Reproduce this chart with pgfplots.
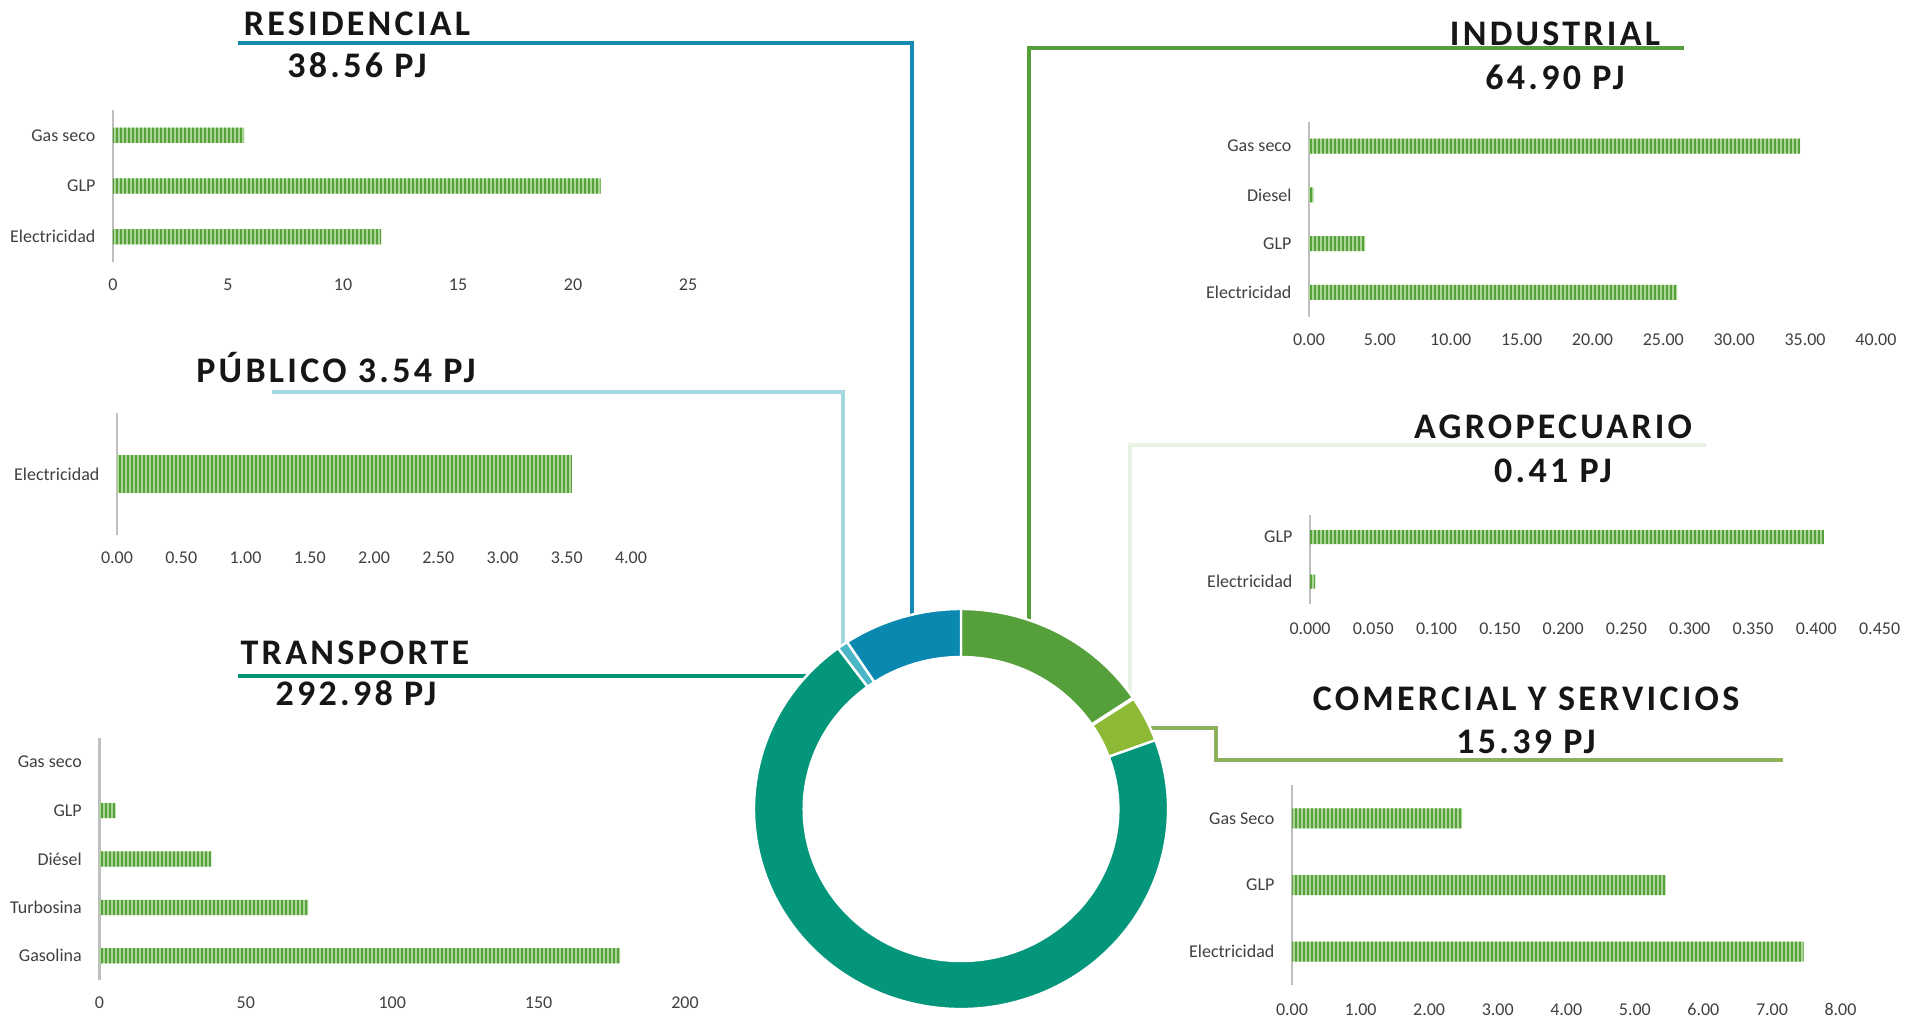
\documentclass[border=0pt]{standalone}
\usepackage{fontspec}
\setmainfont{Carlito}
\newfontfamily\titlefont{Carlito}[LetterSpace=9]
\usepackage{pgfplots}
\pgfplotsset{compat=1.18}
\usetikzlibrary{patterns.meta}

\definecolor{barlight}{RGB}{172,213,152}
\definecolor{bardark}{RGB}{86,161,58}
\definecolor{lab}{RGB}{64,64,64}
\definecolor{axgray}{RGB}{191,191,191}
\definecolor{ttl}{RGB}{22,22,22}
\definecolor{cInd}{HTML}{55A03B}
\definecolor{cAgr}{HTML}{C5DFB0}
\definecolor{cCom}{HTML}{8DB935}
\definecolor{cTra}{HTML}{03967A}
\definecolor{cPub}{HTML}{4AB6C6}
\definecolor{cRes}{HTML}{0B88B0}
\definecolor{lRes}{HTML}{1589B1}
\definecolor{lPub}{HTML}{A4D8E1}
\definecolor{lTra}{HTML}{049577}
\definecolor{lInd}{HTML}{56A03C}
\definecolor{lAgr}{HTML}{E8F3E3}
\definecolor{lCom}{HTML}{8DB25A}

\tikzdeclarepattern{
  name=vstripes,
  type=uncolored,
  bounding box={(0pt,0pt) and (1.4pt,20pt)},
  tile size={(1.4pt,20pt)},
  code={\pgfpathrectangle{\pgfpointorigin}{\pgfpoint{0.75pt}{20pt}}\pgfusepath{fill}}
}

\pgfplotsset{
  hbar/.style={
    scale only axis, anchor=south west, xbar,
    enlargelimits=false, clip=false,
    axis line style={-},
    axis y line*=left, axis x line*=bottom,
    x axis line style={draw=none},
    y axis line style={draw=axgray, line width=0.9pt},
    major tick length=0pt, tick style={draw=none},
    ticklabel style={font=\fontsize{6.75}{8}\selectfont, text=lab},
    yticklabel style={anchor=east, inner sep=0pt, xshift=-6.4pt},
    xticklabel style={anchor=center, inner sep=0pt, yshift=-8.6pt},
  },
  gbar/.style={fill=barlight, draw=none, postaction={pattern=vstripes, pattern color=bardark}},
}

% sector totals (PJ)
\def\vInd{64.90}\def\vAgr{0.41}\def\vCom{15.39}\def\vTra{292.98}\def\vPub{3.54}\def\vRes{38.56}

\newcommand{\seg}[3]{%
  \fill[#3, draw=white, line width=0.9pt, line join=round]
    (axis cs:{cos(#1)},{sin(#1)}) arc[start angle=#1, end angle=#2, x radius=77.625pt, y radius=75pt]
    -- (axis cs:{0.76*cos(#2)},{0.76*sin(#2)}) arc[start angle=#2, end angle=#1, x radius=59pt, y radius=57pt]
    -- cycle;}

\begin{document}
\begin{tikzpicture}[x=0.375pt,y=0.375pt]
\path[use as bounding box] (0,0) rectangle (1918,1016);

\pgfmathsetmacro\tot{\vInd+\vAgr+\vCom+\vTra+\vPub+\vRes}
\pgfmathsetmacro\aO{90}
\pgfmathsetmacro\aI{\aO-360*(\vInd/\tot)}
\pgfmathsetmacro\aII{\aI-360*(\vAgr/\tot)}
\pgfmathsetmacro\aIII{\aII-360*(\vCom/\tot)}
\pgfmathsetmacro\aIV{\aIII-360*(\vTra/\tot)}
\pgfmathsetmacro\aV{\aIV-360*(\vPub/\tot)}
\pgfmathsetmacro\aVI{\aV-360*(\vRes/\tot)}

% connector lines
\draw[lRes, line width=1.5pt] (238,973) -- (911.5,973) -- (911.5,400);
\draw[lPub, line width=1.5pt] (272,624) -- (842.5,624) -- (842.5,368);
\draw[lTra, line width=1.5pt] (238,340.5) -- (808,340.5);
\draw[lInd, line width=1.5pt] (1684,968) -- (1029,968) -- (1029,395);
\draw[lAgr, line width=1.5pt] (1706,571) -- (1130,571) -- (1130,320);
\draw[lCom, line width=1.5pt] (1148,288) -- (1216,288) -- (1216,256) -- (1783,256);

% titles
\tikzset{ttlnode/.style={anchor=base, inner sep=0pt, text=ttl, font=\titlefont\bfseries\fontsize{13.5}{16}\selectfont}}
\node[ttlnode] at (357,980.5) {RESIDENCIAL};
\node[ttlnode] at (357,938) {38.56 PJ};
\node[ttlnode] at (336,633.5) {PÚBLICO 3.54 PJ};
\node[ttlnode] at (355,352) {TRANSPORTE};
\node[ttlnode] at (356,311) {292.98 PJ};
\node[ttlnode] at (1555,970) {INDUSTRIAL};
\node[ttlnode] at (1555,926) {64.90 PJ};
\node[ttlnode] at (1553,577.5) {AGROPECUARIO};
\node[ttlnode] at (1553,534) {0.41 PJ};
\node[ttlnode] at (1526,305.5) {COMERCIAL Y SERVICIOS};
\node[ttlnode] at (1526,262.5) {15.39 PJ};

% RESIDENCIAL
\begin{axis}[hbar, at={(42.375pt,282.75pt)}, width=215.625pt, height=57pt,
  xmin=0, xmax=25, ymin=-0.5, ymax=2.5, bar width=5.74pt,
  xtick={0,5,10,15,20,25}, xticklabels={0,5,10,15,20,25},
  ytick={0,1,2}, yticklabels={Electricidad,GLP,Gas seco}]
\addplot[gbar] coordinates {(11.66,0) (21.2,1) (5.7,2)};
\end{axis}

% PUBLICO
\begin{axis}[hbar, at={(43.875pt,180.375pt)}, width=192.75pt, height=45.75pt,
  xmin=0, xmax=4, ymin=-0.5, ymax=0.5, bar width=13.9pt,
  xtick={0,0.5,1,1.5,2,2.5,3,3.5,4},
  xticklabels={0.00,0.50,1.00,1.50,2.00,2.50,3.00,3.50,4.00},
  ytick={0}, yticklabels={Electricidad}]
\addplot[gbar] coordinates {(3.54,0)};
\end{axis}

% TRANSPORTE
\begin{axis}[hbar, at={(37.275pt,13.5pt)}, width=219.6pt, height=90.75pt,
  xmin=0, xmax=200, ymin=-0.5, ymax=4.5, bar width=5.7pt,
  xtick={0,50,100,150,200}, xticklabels={0,50,100,150,200},
  ytick={0,1,2,3,4}, yticklabels={Gasolina,Turbosina,Diésel,GLP,Gas seco}]
\addplot[gbar] coordinates {(177.8,0) (71.4,1) (38.2,2) (5.5,3) (0.08,4)};
\end{axis}

% INDUSTRIAL
\begin{axis}[hbar, at={(490.875pt,262.24pt)}, width=212.6pt, height=73.1pt,
  xmin=0, xmax=40, ymin=-0.5, ymax=3.5, bar width=5.6pt,
  xtick={0,5,10,15,20,25,30,35,40},
  xticklabels={0.00,5.00,10.00,15.00,20.00,25.00,30.00,35.00,40.00},
  ytick={0,1,2,3}, yticklabels={Electricidad,GLP,Diesel,Gas seco}]
\addplot[gbar] coordinates {(25.97,0) (3.95,1) (0.33,2) (34.65,3)};
\end{axis}

% AGROPECUARIO
\begin{axis}[hbar, at={(491.25pt,154.5pt)}, width=213.6pt, height=33.4pt,
  xmin=0, xmax=0.45, ymin=-0.5, ymax=1.5, bar width=5.25pt,
  xtick={0,0.05,0.1,0.15,0.2,0.25,0.3,0.35,0.4,0.45},
  xticklabels={0.000,0.050,0.100,0.150,0.200,0.250,0.300,0.350,0.400,0.450},
  xticklabel style={yshift=-0.6pt},
  ytick={0,1}, yticklabels={Electricidad,GLP}]
\addplot[gbar] coordinates {(0.004,0) (0.406,1)};
\end{axis}

% COMERCIAL Y SERVICIOS
\begin{axis}[hbar, at={(484.5pt,11.625pt)}, width=205.7pt, height=75pt,
  xmin=0, xmax=8, ymin=-0.5, ymax=2.5, bar width=7.5pt,
  xtick={0,1,2,3,4,5,6,7,8},
  xticklabels={0.00,1.00,2.00,3.00,4.00,5.00,6.00,7.00,8.00},
  xticklabel style={yshift=-0.5pt},
  ytick={0,1,2}, yticklabels={Electricidad,GLP,Gas Seco}]
\addplot[gbar] coordinates {(7.46,0) (5.45,1) (2.48,2)};
\end{axis}

% DONUT
\begin{axis}[at={(282.75pt,2.625pt)}, anchor=south west, scale only axis,
  width=155.25pt, height=150pt, xmin=-1, xmax=1, ymin=-1, ymax=1,
  hide axis, clip=false]
\addplot[draw=none] coordinates {(0,0)};
\seg{\aO}{\aI}{cInd}
\seg{\aI}{\aII}{cAgr}
\seg{\aII}{\aIII}{cCom}
\seg{\aIII}{\aIV}{cTra}
\seg{\aIV}{\aV}{cPub}
\seg{\aV}{\aVI}{cRes}
\end{axis}
\end{tikzpicture}
\end{document}
